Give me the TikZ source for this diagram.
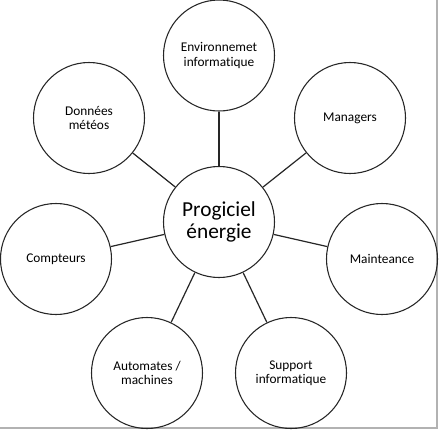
\documentclass[tikz,border=0pt]{standalone}
\usepackage{fontspec}
\setmainfont[Ligatures={NoCommon,NoRare,NoContextual}]{Carlito}
\begin{document}
\begin{tikzpicture}[x=0.75pt,y=-0.75pt,
  bubble/.style={circle,draw=black!85,line width=0.8pt,minimum size=111*0.75pt,inner sep=0pt,align=center,font=\fontsize{10}{10.7}\selectfont},
  hub/.style={bubble,font=\fontsize{16}{17}\selectfont},
  link/.style={draw=black!85,line width=0.9pt}]
\useasboundingbox (0,0) rectangle (439,429);
\fill[white] (0,0) rectangle (439,429);
\draw[black!30,line width=1.5pt] (436.5,0) -- (436.5,427.5) -- (0,427.5);
\node[hub] (c) at (219,222) {Progiciel\\énergie};
\node[bubble] (env) at (219,55.5) {Environnemet\\informatique};
\node[bubble] (man) at (350,118) {Managers};
\node[bubble] (don) at (89,118) {Données\\météos};
\node[bubble] (cpt) at (56,259) {Compteurs};
\node[bubble] (mai) at (382,259) {Mainteance};
\node[bubble] (aut) at (147,373) {Automates /\\machines};
\node[bubble] (sup) at (291,373) {Support\\informatique};
\foreach \n in {env,man,don,cpt,mai,aut,sup}{\draw[link] (c) -- (\n);}
\end{tikzpicture}
\end{document}
